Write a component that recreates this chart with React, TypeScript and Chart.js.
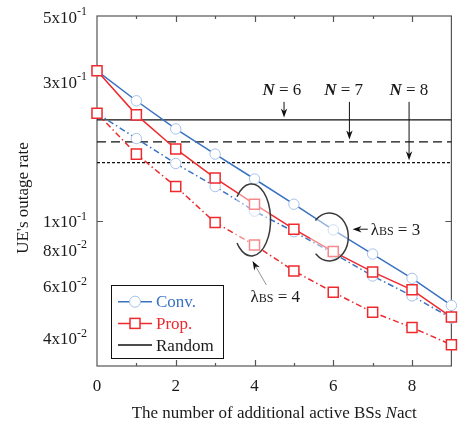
import { useEffect, useRef } from "react";
import { Chart, registerables } from "chart.js";

Chart.register(...registerables);

// ---------- data ----------
const xValues = [0, 1, 2, 3, 4, 5, 6, 7, 8, 9];
const convLambda3 = [0.325, 0.257, 0.206, 0.169, 0.139, 0.114, 0.0932, 0.0771, 0.0637, 0.0515];
const propLambda3 = [0.325, 0.23, 0.176, 0.14, 0.114, 0.0937, 0.0786, 0.067, 0.0582, 0.047];
const convLambda4 = [0.233, 0.191, 0.157, 0.131, 0.108, 0.0919, 0.0776, 0.0649, 0.0555, 0.0466];
const propLambda4 = [0.233, 0.169, 0.131, 0.0987, 0.0828, 0.0675, 0.0571, 0.0488, 0.0433, 0.0378];
const randomX = [0, 9];
const randomN6 = [0.221, 0.221];
const randomN7 = [0.186, 0.186];
const randomN8 = [0.158, 0.158];

const yTickValues = [0.5, 0.3, 0.1, 0.08, 0.06, 0.04];
const yTickBase = ["5x10", "3x10", "1x10", "8x10", "6x10", "4x10"];
const yTickExp = ["-1", "-1", "-1", "-2", "-2", "-2"];
const yMarkValues = [0.1];
const xTickLabelValues = [0, 2, 4, 6, 8];
const xTickMarkValues = [1, 2, 3, 4, 5, 6, 7, 8];

const FONT = '"Liberation Serif", "Times New Roman", serif';
const BLUE = "#3a72c2";
const LIGHTBLUE = "#a6c3ea";
const RED = "#ee2a2e";
const AXIS = "#555555";
const TEXT = "#1a1a1a";
const DASHDOT = [6, 3, 1.5, 3];

type Run = { text: string; font: string; dy?: number; color?: string };

function runsWidth(ctx: CanvasRenderingContext2D, runs: Run[]) {
  let w = 0;
  for (const r of runs) {
    ctx.font = r.font;
    w += ctx.measureText(r.text).width;
  }
  return w;
}

function drawRuns(ctx: CanvasRenderingContext2D, runs: Run[], x: number, baseline: number, align: "left" | "center" | "right" = "left") {
  const w = runsWidth(ctx, runs);
  let cx = align === "left" ? x : align === "center" ? x - w / 2 : x - w;
  ctx.textAlign = "left";
  ctx.textBaseline = "alphabetic";
  for (const r of runs) {
    ctx.font = r.font;
    ctx.fillStyle = r.color || TEXT;
    ctx.fillText(r.text, cx, baseline + (r.dy || 0));
    cx += ctx.measureText(r.text).width;
  }
}

function arrow(ctx: CanvasRenderingContext2D, x1: number, y1: number, x2: number, y2: number, lineColor = "#111", lw = 1) {
  const ang = Math.atan2(y2 - y1, x2 - x1);
  const len = 9;
  const hw = 3.2;
  ctx.save();
  ctx.strokeStyle = lineColor;
  ctx.lineWidth = lw;
  ctx.setLineDash([]);
  ctx.beginPath();
  ctx.moveTo(x1, y1);
  ctx.lineTo(x2 - Math.cos(ang) * 4, y2 - Math.sin(ang) * 4);
  ctx.stroke();
  ctx.translate(x2, y2);
  ctx.rotate(ang);
  ctx.fillStyle = "#111";
  ctx.beginPath();
  ctx.moveTo(0, 0);
  ctx.lineTo(-len, -hw);
  ctx.lineTo(-len * 0.7, 0);
  ctx.lineTo(-len, hw);
  ctx.closePath();
  ctx.fill();
  ctx.restore();
}

const R17 = `17px ${FONT}`;
const R12 = `12px ${FONT}`;
const R11 = `11px ${FONT}`;
const I17 = `italic 17px ${FONT}`;
const BI17 = `italic bold 17px ${FONT}`;

const customPlugin = {
  id: "customDecor",
  beforeDatasetsDraw(chart: any) {
    const ctx: CanvasRenderingContext2D = chart.ctx;
    const { left, right, top, bottom } = chart.chartArea;
    const xs = chart.scales.x;
    const ys = chart.scales.y;
    ctx.save();
    // frame
    ctx.strokeStyle = AXIS;
    ctx.lineWidth = 1.2;
    ctx.strokeRect(left, top, right - left, bottom - top);
    // x tick marks
    ctx.beginPath();
    for (const v of xTickMarkValues) {
      const px = Math.round(xs.getPixelForValue(v)) + 0.5;
      const len = v % 2 === 0 ? 6 : 3;
      ctx.moveTo(px, bottom);
      ctx.lineTo(px, bottom - len);
      ctx.moveTo(px, top);
      ctx.lineTo(px, top + len);
    }
    for (const v of yMarkValues) {
      const py = Math.round(ys.getPixelForValue(v)) + 0.5;
      ctx.moveTo(left, py);
      ctx.lineTo(left + 6, py);
      ctx.moveTo(right, py);
      ctx.lineTo(right - 6, py);
    }
    ctx.stroke();
    // x tick labels
    ctx.fillStyle = TEXT;
    ctx.font = R17;
    ctx.textAlign = "center";
    ctx.textBaseline = "alphabetic";
    for (const v of xTickLabelValues) {
      ctx.fillText(String(v), xs.getPixelForValue(v), bottom + 25);
    }
    // y tick labels with superscripts
    yTickValues.forEach((v, i) => {
      const py = ys.getPixelForValue(v);
      drawRuns(
        ctx,
        [
          { text: yTickBase[i], font: R17 },
          { text: yTickExp[i], font: R12, dy: -7.5 },
        ],
        left - 10,
        py + 6.5,
        "right"
      );
    });
    // x title
    drawRuns(
      ctx,
      [
        { text: "The number of additional active BSs ", font: R17 },
        { text: "N", font: I17 },
        { text: "act", font: R17 },
      ],
      (left + right) / 2,
      bottom + 52,
      "center"
    );
    // y title
    ctx.save();
    ctx.translate(24, 198);
    ctx.rotate(-Math.PI / 2);
    ctx.font = R17;
    ctx.fillStyle = TEXT;
    ctx.textAlign = "center";
    ctx.textBaseline = "middle";
    ctx.fillText("UE's outage rate", 0, 0);
    ctx.restore();
    ctx.restore();
  },
  afterDatasetsDraw(chart: any) {
    const ctx: CanvasRenderingContext2D = chart.ctx;
    const { left } = chart.chartArea;
    const xs = chart.scales.x;
    const ys = chart.scales.y;
    const px = (v: number) => xs.getPixelForValue(v);
    const py = (v: number) => ys.getPixelForValue(v);
    ctx.save();

    // ellipses grouping lambda curves
    const ell = (cx: number, cy: number, rx: number, ry: number, a0: number, a1: number) => {
      ctx.save();
      ctx.setLineDash([]);
      ctx.fillStyle = "rgba(255,255,255,0.45)";
      ctx.beginPath();
      ctx.ellipse(cx, cy, rx, ry, 0, 0, Math.PI * 2);
      ctx.fill();
      ctx.strokeStyle = "#3a3a3a";
      ctx.lineWidth = 1.5;
      ctx.beginPath();
      ctx.ellipse(cx, cy, rx, ry, 0, (a0 * Math.PI) / 180, (a1 * Math.PI) / 180);
      ctx.stroke();
      ctx.restore();
    };
    ell(px(5.9), py(0.0882), 19, 24, -137, 136);
    ell(px(3.925), py(0.1008), 19, 36, -140, 140);

    // N labels and arrows
    const nLabels = [
      { n: "6", tx: 4.2, ax: 4.75, level: randomN6[0] },
      { n: "7", tx: 5.77, ax: 6.41, level: randomN7[0] },
      { n: "8", tx: 7.425, ax: 7.925, level: randomN8[0] },
    ];
    for (const l of nLabels) {
      drawRuns(ctx, [{ text: "N", font: BI17 }, { text: " = " + l.n, font: R17 }], px(l.tx), py(0.269), "left");
      arrow(ctx, px(l.ax), py(0.2547), px(l.ax), py(l.level) - 2.5);
    }

    // lambda = 3
    const yl3 = py(0.0937);
    arrow(ctx, px(6.875), yl3, px(6.49), yl3);
    drawRuns(
      ctx,
      [
        { text: "λ", font: R17 },
        { text: "BS", font: R12 },
        { text: " = 3", font: R17 },
      ],
      px(6.95),
      yl3 + 5.5,
      "left"
    );
    // lambda = 4
    arrow(ctx, px(4.3), py(0.0605), px(3.95), py(0.073), "#777", 0.8);
    drawRuns(
      ctx,
      [
        { text: "λ", font: R17 },
        { text: "BS", font: R12 },
        { text: " = 4", font: R17 },
      ],
      px(3.9),
      py(0.0553) + 5.5,
      "left"
    );

    // legend
    const bx = left + 14;
    const by = 285;
    const bw = 112;
    const bh = 73;
    ctx.fillStyle = "#fff";
    ctx.fillRect(bx, by, bw, bh);
    ctx.strokeStyle = "#111";
    ctx.lineWidth = 1;
    ctx.setLineDash([]);
    ctx.strokeRect(bx + 0.5, by + 0.5, bw, bh);
    const items = [
      { label: "Conv.", color: BLUE, textColor: BLUE, marker: "circle" },
      { label: "Prop.", color: RED, textColor: RED, marker: "square" },
      { label: "Random", color: "#111", textColor: TEXT, marker: "" },
    ];
    items.forEach((it, i) => {
      const yy = by + 16.7 + i * 21.7;
      ctx.strokeStyle = it.color;
      ctx.lineWidth = 1.5;
      ctx.beginPath();
      ctx.moveTo(bx + 7, yy);
      ctx.lineTo(bx + 41, yy);
      ctx.stroke();
      const mx = bx + 24;
      if (it.marker === "circle") {
        ctx.fillStyle = "#fff";
        ctx.strokeStyle = LIGHTBLUE;
        ctx.lineWidth = 1;
        ctx.beginPath();
        ctx.arc(mx, yy, 5.5, 0, Math.PI * 2);
        ctx.fill();
        ctx.stroke();
      } else if (it.marker === "square") {
        ctx.fillStyle = "#fff";
        ctx.strokeStyle = RED;
        ctx.lineWidth = 1.5;
        ctx.fillRect(mx - 5, yy - 5, 10, 10);
        ctx.strokeRect(mx - 5, yy - 5, 10, 10);
      }
      ctx.font = R17;
      ctx.fillStyle = it.textColor;
      ctx.textAlign = "left";
      ctx.textBaseline = "alphabetic";
      ctx.fillText(it.label, bx + 45, yy + 5.6);
    });
    ctx.restore();
  },
};

function series(ys: number[], xs: number[] = xValues) {
  return xs.map((x, i) => ({ x, y: ys[i] }));
}

export default function App() {
  const ref = useRef<HTMLCanvasElement>(null);
  useEffect(() => {
    const common = { tension: 0, clip: false as any, fill: false };
    const chart = new Chart(ref.current!, {
      type: "line",
      data: {
        datasets: [
          {
            ...common,
            label: "Prop. λBS=3",
            data: series(propLambda3),
            borderColor: RED,
            borderWidth: 1.5,
            pointStyle: "rect",
            pointRadius: 7.1,
            pointBorderColor: RED,
            pointBackgroundColor: "#fff",
            pointBorderWidth: 1.5,
          },
          {
            ...common,
            label: "Prop. λBS=4",
            data: series(propLambda4),
            borderColor: RED,
            borderWidth: 1.5,
            borderDash: DASHDOT,
            pointStyle: "rect",
            pointRadius: 7.1,
            pointBorderColor: RED,
            pointBackgroundColor: "#fff",
            pointBorderWidth: 1.5,
          },
          {
            ...common,
            label: "Conv. λBS=3",
            data: series(convLambda3),
            borderColor: BLUE,
            borderWidth: 1.5,
            pointStyle: "circle",
            pointRadius: 5.2,
            pointBorderColor: LIGHTBLUE,
            pointBackgroundColor: "#fff",
            pointBorderWidth: 1,
          },
          {
            ...common,
            label: "Conv. λBS=4",
            data: series(convLambda4),
            borderColor: BLUE,
            borderWidth: 1.5,
            borderDash: DASHDOT,
            pointStyle: "circle",
            pointRadius: 5.2,
            pointBorderColor: LIGHTBLUE,
            pointBackgroundColor: "#fff",
            pointBorderWidth: 1,
          },
          {
            ...common,
            label: "Random N=6",
            data: series(randomN6, randomX),
            borderColor: "#111",
            borderWidth: 1.3,
            pointRadius: 0,
          },
          {
            ...common,
            label: "Random N=7",
            data: series(randomN7, randomX),
            borderColor: "#111",
            borderWidth: 1.3,
            borderDash: [9, 5],
            pointRadius: 0,
          },
          {
            ...common,
            label: "Random N=8",
            data: series(randomN8, randomX),
            borderColor: "#111",
            borderWidth: 1.3,
            borderDash: [3, 2],
            pointRadius: 0,
          },
        ],
      },
      options: {
        animation: false,
        responsive: true,
        maintainAspectRatio: false,
        devicePixelRatio: 1,
        layout: { padding: { top: 16, right: 3, left: 0, bottom: 0 } },
        plugins: { legend: { display: false }, tooltip: { enabled: false } },
        events: [],
        scales: {
          x: {
            type: "linear",
            min: 0,
            max: 9,
            grid: { display: false },
            border: { display: false },
            ticks: { display: false },
            afterFit: (s: any) => {
              s.height = 69;
            },
          },
          y: {
            type: "logarithmic",
            min: 0.032,
            max: 0.5,
            grid: { display: false },
            border: { display: false },
            ticks: { display: false },
            afterFit: (s: any) => {
              s.width = 97;
            },
          },
        },
      },
      plugins: [customPlugin],
    } as any);
    return () => chart.destroy();
  }, []);
  return (
    <div style={{ position: "fixed", left: 0, top: 0, width: 460, height: 435, background: "#fff" }}>
      <canvas ref={ref} />
    </div>
  );
}
